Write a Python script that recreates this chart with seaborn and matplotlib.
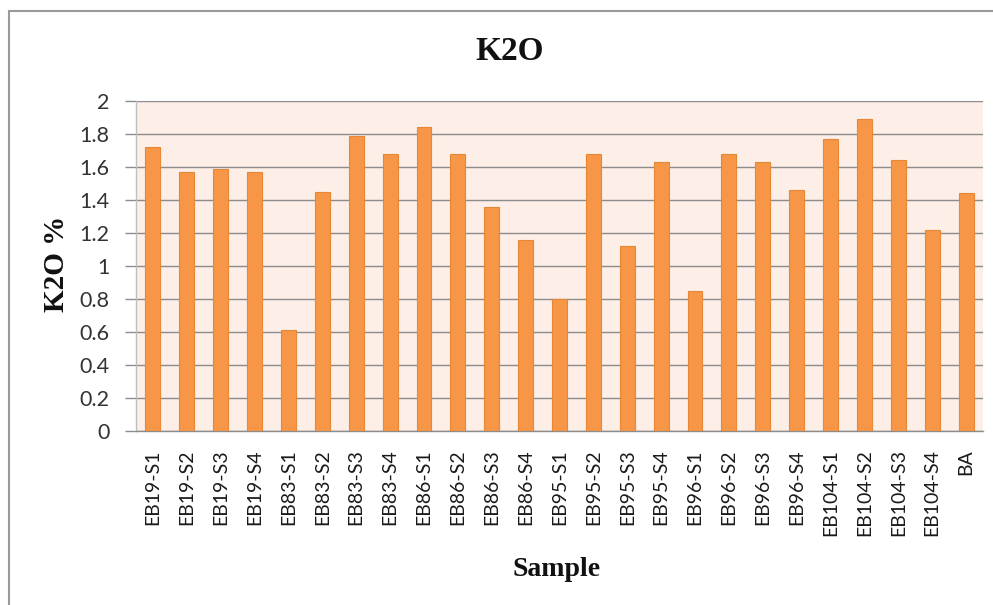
import matplotlib
matplotlib.use("Agg")
import matplotlib.pyplot as plt
from matplotlib.lines import Line2D
import seaborn as sns
import pandas as pd

samples = ["EB19-S1", "EB19-S2", "EB19-S3", "EB19-S4",
           "EB83-S1", "EB83-S2", "EB83-S3", "EB83-S4",
           "EB86-S1", "EB86-S2", "EB86-S3", "EB86-S4",
           "EB95-S1", "EB95-S2", "EB95-S3", "EB95-S4",
           "EB96-S1", "EB96-S2", "EB96-S3", "EB96-S4",
           "EB104-S1", "EB104-S2", "EB104-S3", "EB104-S4", "BA"]
k2o = [1.72, 1.57, 1.59, 1.57,
       0.61, 1.45, 1.79, 1.68,
       1.84, 1.68, 1.36, 1.16,
       0.80, 1.68, 1.12, 1.63,
       0.85, 1.68, 1.63, 1.46,
       1.77, 1.89, 1.64, 1.22, 1.44]
yticks = [0, 0.2, 0.4, 0.6, 0.8, 1, 1.2, 1.4, 1.6, 1.8, 2]
ytick_labels = ["0", "0.2", "0.4", "0.6", "0.8", "1", "1.2", "1.4", "1.6", "1.8", "2"]

df = pd.DataFrame({"Sample": samples, "K2O": k2o})

sns.set_theme(style="white")
plt.rcParams["font.family"] = ["Lato", "DejaVu Sans"]

W, H = 993, 605
fig = plt.figure(figsize=(W / 100, H / 100), dpi=100)
fig.patch.set_facecolor("white")

ax = fig.add_axes([136 / W, 1 - 431 / H, (983 - 136) / W, (431 - 101) / H])
ax.set_facecolor("#FDEEE7")

sns.barplot(data=df, x="Sample", y="K2O", color="#F79646", width=0.44,
            edgecolor="#E58735", linewidth=0.8, saturation=1, ax=ax, zorder=3)

ax.set_ylim(0, 2)
ax.set_xlim(-0.5, len(samples) - 0.5)
ax.set_yticks(yticks)
ax.set_yticklabels(ytick_labels)
ax.yaxis.grid(True, color="#8C8C8C", linewidth=1.0, zorder=1)
ax.set_axisbelow(True)
ax.tick_params(axis="y", which="major", left=True, length=8, width=1.0,
               color="#8C8C8C", pad=11, labelsize=15.5, labelcolor="#333333")
ax.tick_params(axis="x", which="major", bottom=False, length=0, pad=13,
               labelsize=14, labelcolor="#1A1A1A")
for lab in ax.get_xticklabels():
    lab.set_rotation(90)
    lab.set_va("top")
    lab.set_ha("center")

for s in ["top", "right"]:
    ax.spines[s].set_visible(False)
ax.spines["left"].set_color("#BFBFBF")
ax.spines["left"].set_linewidth(1.0)
ax.spines["bottom"].set_color("#8C8C8C")
ax.spines["bottom"].set_linewidth(1.0)
ax.set_xlabel("")
ax.set_ylabel("")

serif = ["Liberation Serif", "DejaVu Serif"]
fig.text(510 / W, 1 - 51 / H, "K2O", family=serif, fontweight="bold",
         fontsize=24, ha="center", va="center", color="#111111")
fig.text(557 / W, 1 - 570 / H, "Sample", family=serif, fontweight="bold",
         fontsize=20, ha="center", va="center", color="#111111")
fig.text(57 / W, 1 - 264 / H, "K2O %", family=serif, fontweight="bold",
         fontsize=21, ha="center", va="center", rotation=90, color="#111111")

# chart area border (left and top edges visible)
fig.add_artist(Line2D([9 / W, 9 / W], [0, 1 - 11 / H], transform=fig.transFigure,
                      color="#9A9A9A", linewidth=1.5))
fig.add_artist(Line2D([9 / W, 1], [1 - 11 / H, 1 - 11 / H], transform=fig.transFigure,
                      color="#9A9A9A", linewidth=1.5))

fig.savefig("out.png", dpi=100, facecolor="white")
